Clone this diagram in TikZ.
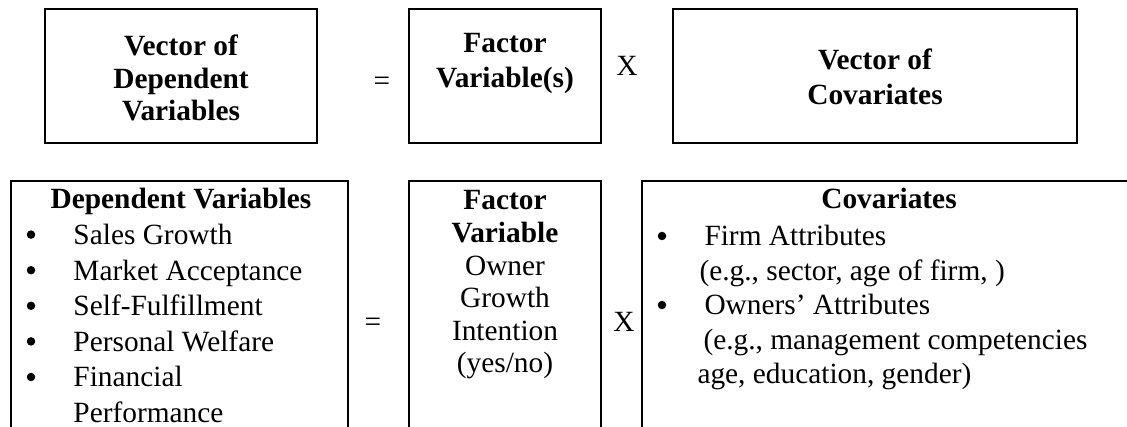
\documentclass[tikz,border=0pt]{standalone}
\usepackage{fontspec}
\setmainfont{Liberation Serif}
\newcommand{\pxu}{0.4088pt}
\begin{document}
\begin{tikzpicture}[x = \pxu, y = -\pxu,
    box/.style = {draw, line width = 1.2pt, inner sep = 0pt},
    hd/.style = {font = \fontsize{12}{14}\selectfont\bfseries, inner sep = 0pt, anchor = base},
    ctr/.style = {font = \fontsize{12}{14}\selectfont, inner sep = 0pt, anchor = base},
    txt/.style = {font = \fontsize{12}{14}\selectfont, inner sep = 0pt, anchor = base west},
    bul/.style = {circle, fill, inner sep = 0pt, minimum size = 8.5*\pxu}]
  \useasboundingbox (0,0) rectangle (1127,427);
  % top row
  \node [box, minimum width = 272*\pxu, minimum height = 134*\pxu] (vdep) at (181,76) {};
  \node [hd] (vdep1) at (181,56) {Vector of};
  \node [hd] (vdep2) at (181,88.5) {Dependent};
  \node [hd] (vdep3) at (181,121) {Variables};
  \node [ctr] (eqtop) at (382,91) {=};
  \node [box, minimum width = 192*\pxu, minimum height = 134*\pxu] (fvar) at (505,76) {};
  \node [hd] (fvar1) at (505,53) {Factor};
  \node [hd] (fvar2) at (505,88) {Variable(s)};
  \node [ctr] (xtop) at (627,76) {X};
  \node [box, minimum width = 404*\pxu, minimum height = 134*\pxu] (vcov) at (875,76) {};
  \node [hd] (vcov1) at (875,70) {Vector of};
  \node [hd] (vcov2) at (875,105) {Covariates};
  % bottom row, boxes open at the foot
  \draw [box] (11,430) -- (11,181) -- (348,181) -- (348,430);
  \node [hd] (dvhead) at (181,209) {Dependent Variables};
  \foreach \lbl [count = \i from 0] in {Sales Growth, Market Acceptance, Self-Fulfillment, Personal Welfare, Financial} {
    \node [bul] (dvb\i) at (31,{234.6+35.6*\i}) {};
    \node [txt] (dv\i) at (73,{244.6+35.6*\i}) {\lbl};
  }
  \node [txt] (dv5) at (73,422.6) {Performance};
  \node [ctr] (eqbot) at (373,332) {=};
  \draw [box] (409,430) -- (409,181) -- (601,181) -- (601,430);
  \node [hd] (fv1) at (505,210) {Factor};
  \node [hd] (fv2) at (505,242.6) {Variable};
  \foreach \lbl [count = \i from 3] in {Owner, Growth, Intention, (yes/no)}
    \node [ctr] (fv\i) at (505,{210+32.6*(\i-1)}) {\lbl};
  \node [ctr] (xbot) at (624,332) {X};
  \draw [box] (642,430) -- (642,181) -- (1130,181);
  \node [hd] (covhead) at (889,209) {Covariates};
  \node [bul] (cb1) at (662,236) {};
  \node [txt] (cov1) at (704,246) {Firm Attributes};
  \node [txt] (cov2) at (699,280.5) {(e.g., sector, age of firm, )};
  \node [bul] (cb2) at (662,305) {};
  \node [txt] (cov3) at (704,315) {Owners’ Attributes};
  \node [txt] (cov4) at (703,349.5) {(e.g., management competencies};
  \node [txt] (cov5) at (697,384) {age, education, gender)};
\end{tikzpicture}
\end{document}
